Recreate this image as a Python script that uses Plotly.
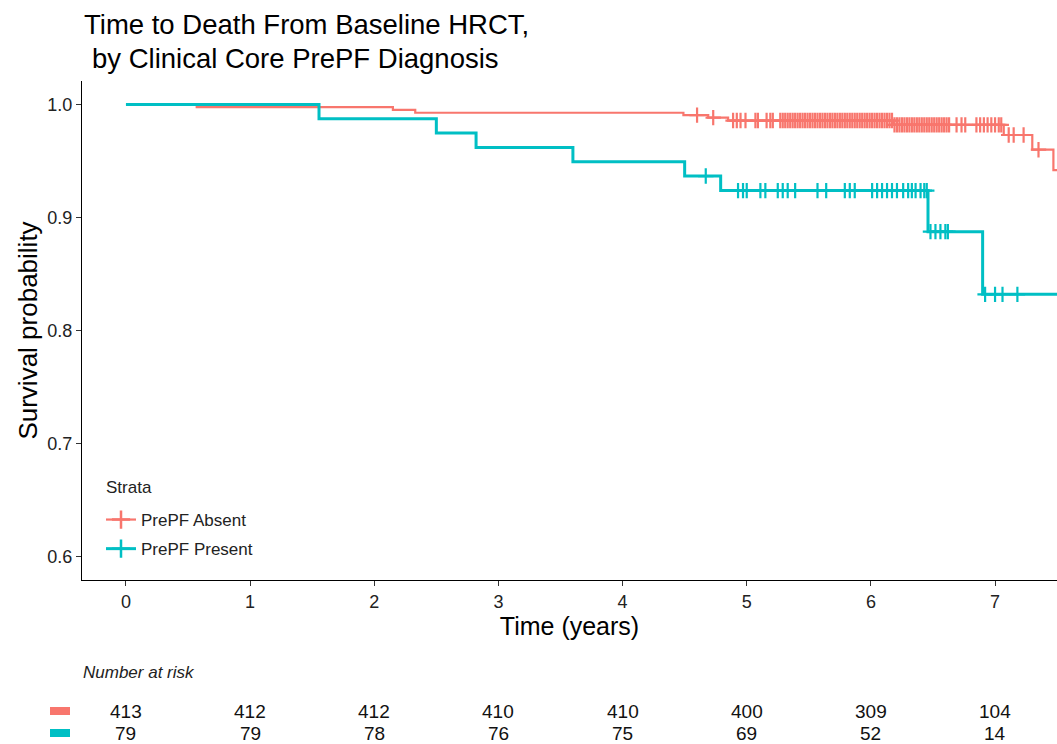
import numpy as np
import plotly.graph_objects as go

# ---------------- data ----------------
time_ticks = [0, 1, 2, 3, 4, 5, 6, 7]
strata = ["PrePF Absent", "PrePF Present"]

absent_event_times = [0.57, 2.15, 2.33, 4.49, 4.69, 4.85, 6.18, 7.07, 7.30, 7.47]
absent_surv = [0.9976, 0.9952, 0.9927, 0.9906, 0.9884, 0.9858, 0.9820, 0.9730, 0.9600, 0.9420]
absent_censor_times = [
    4.60, 4.73, 4.89, 4.92, 4.95, 4.99, 5.07, 5.09, 5.16, 5.19, 5.21,
    5.27, 5.29, 5.31, 5.33, 5.35, 5.37, 5.39, 5.41, 5.43, 5.45, 5.47, 5.49,
    5.51, 5.53, 5.55, 5.57, 5.59, 5.61, 5.63, 5.65, 5.67, 5.69, 5.71, 5.73,
    5.75, 5.77, 5.79, 5.81, 5.83, 5.85, 5.87, 5.89, 5.91, 5.93, 5.95, 5.97,
    5.99, 6.01, 6.03, 6.05, 6.07, 6.09, 6.11, 6.13, 6.15, 6.17, 6.19, 6.21,
    6.23, 6.25, 6.27, 6.29, 6.31, 6.33, 6.35, 6.37, 6.39, 6.41, 6.43, 6.45,
    6.47, 6.49, 6.51, 6.53, 6.55, 6.57, 6.59, 6.61, 6.63,
    6.69, 6.73, 6.76, 6.85, 6.88, 6.91, 6.94, 6.97, 7.00, 7.03, 7.05,
    7.11, 7.15, 7.23, 7.35,
]

present_event_times = [1.555, 2.50, 2.82, 3.60, 4.50, 4.79, 6.46, 6.90]
present_surv = [0.9873, 0.9747, 0.9620, 0.9494, 0.9367, 0.9238, 0.8875, 0.8320]
present_censor_times = [
    4.67, 4.93, 4.97, 5.00, 5.11, 5.15, 5.25, 5.29, 5.33, 5.39, 5.57, 5.64,
    5.79, 5.83, 5.87, 6.01, 6.05, 6.09, 6.13, 6.17, 6.21, 6.26, 6.30, 6.33,
    6.36, 6.40, 6.43, 6.45, 6.48, 6.52, 6.56, 6.60, 6.62,
    6.92, 7.00, 7.06, 7.18,
]

risk_absent = [413, 412, 412, 410, 410, 400, 309, 104]
risk_present = [79, 79, 78, 76, 75, 69, 52, 14]

colors = ["#F8766D", "#00BFC4"]
x_end = 7.6

# ---------------- helpers ----------------
def step_xy(ev_t, ev_s):
    xs = [0.0] + list(ev_t) + [x_end]
    ys = [1.0] + list(ev_s) + [ev_s[-1]]
    return xs, ys

def surv_at(ev_t, ev_s, tt):
    idx = np.searchsorted(np.array(ev_t), np.array(tt), side="right")
    s = np.concatenate([[1.0], ev_s])
    return s[idx]

FONT = "Liberation Sans, Arial, sans-serif"
fig = go.Figure()

series = [
    (absent_event_times, absent_surv, absent_censor_times, colors[0], 2.2, strata[0]),
    (present_event_times, present_surv, present_censor_times, colors[1], 3.0, strata[1]),
]
for i, (et, es, ct, col, lw, name) in enumerate(series):
    xs, ys = step_xy(et, es)
    fig.add_trace(go.Scatter(x=xs, y=ys, mode="lines", line=dict(color=col, width=lw, shape="hv"),
                             showlegend=False, hoverinfo="skip"))
    fig.add_trace(go.Scatter(x=ct, y=surv_at(et, es, ct), mode="markers",
                             marker=dict(symbol="cross-thin", size=11, line=dict(color=col, width=2.2)),
                             showlegend=False, hoverinfo="skip"))
    # legend entry
    fig.add_trace(go.Scatter(x=[None], y=[None], mode="lines+markers", name=name,
                             legendgroup=name,
                             line=dict(color=col, width=lw),
                             marker=dict(symbol="cross-thin", size=13, line=dict(color=col, width=2.5))))

W, H = 1057, 744
L, R, T, B = 82, 0, 81, 164
ph = H - T - B
pw = W - L - R

def py(pix):
    return (H - B - pix) / ph

def px(pix):
    return (pix - L) / pw

annotations = [
    dict(text="Time to Death From Baseline HRCT,", x=px(82), y=py(24), xref="paper", yref="paper",
         xanchor="left", yanchor="middle", showarrow=False, font=dict(size=27.5, color="black", family=FONT)),
    dict(text="by Clinical Core PrePF Diagnosis", x=px(90), y=py(59), xref="paper", yref="paper",
         xanchor="left", yanchor="middle", showarrow=False, font=dict(size=27.5, color="black", family=FONT)),
    dict(text="<i>Number at risk</i>", x=px(81), y=py(672), xref="paper", yref="paper",
         xanchor="left", yanchor="middle", showarrow=False, font=dict(size=17, color="#222222", family=FONT)),
    dict(text="Strata", x=px(104), y=py(487), xref="paper", yref="paper",
         xanchor="left", yanchor="middle", showarrow=False, font=dict(size=17, color="#222222", family=FONT)),
]
for row_vals, row_y in [(risk_absent, 711), (risk_present, 733)]:
    for t, v in zip(time_ticks, row_vals):
        annotations.append(dict(text=str(v), x=t, y=py(row_y), xref="x", yref="paper",
                                xanchor="center", yanchor="middle", showarrow=False,
                                font=dict(size=19, color="#111111", family=FONT)))

shapes = []
for col, row_y in zip(colors, [711, 733]):
    shapes.append(dict(type="rect", xref="paper", yref="paper", x0=px(50), x1=px(70),
                       y0=py(row_y + 4), y1=py(row_y - 4), fillcolor=col, line=dict(width=0)))

fig.update_layout(
    width=W, height=H,
    margin=dict(l=L, r=R, t=T, b=B),
    paper_bgcolor="white", plot_bgcolor="white",
    font=dict(family=FONT, color="#222222"),
    showlegend=True,
    legend=dict(x=px(101), y=py(502), xanchor="left", yanchor="top",
                bgcolor="rgba(0,0,0,0)", font=dict(size=17, color="#222222"),
                tracegroupgap=4, itemwidth=30),
    annotations=annotations,
    shapes=shapes,
    xaxis=dict(range=[-0.354, 7.499], tickvals=time_ticks, ticktext=[str(t) for t in time_ticks],
               showline=True, linecolor="black", linewidth=1.2, ticks="outside", ticklen=5,
               tickcolor="#333333", tickfont=dict(size=18, color="#222222"),
               showgrid=False, zeroline=False,
               title=dict(text="Time (years)", font=dict(size=25, color="black"), standoff=4)),
    yaxis=dict(range=[0.5792, 1.0208], tickvals=[0.6, 0.7, 0.8, 0.9, 1.0],
               ticktext=["0.6", "0.7", "0.8", "0.9", "1.0"],
               showline=True, linecolor="black", linewidth=1.2, ticks="outside", ticklen=5,
               tickcolor="#333333", tickfont=dict(size=18, color="#222222"),
               showgrid=False, zeroline=False,
               title=dict(text="Survival probability", font=dict(size=26, color="black"), standoff=2)),
)

fig.write_html("out.html", config={"displayModeBar": False},
               post_script="document.body.style.margin='0';document.body.style.overflow='hidden';")
